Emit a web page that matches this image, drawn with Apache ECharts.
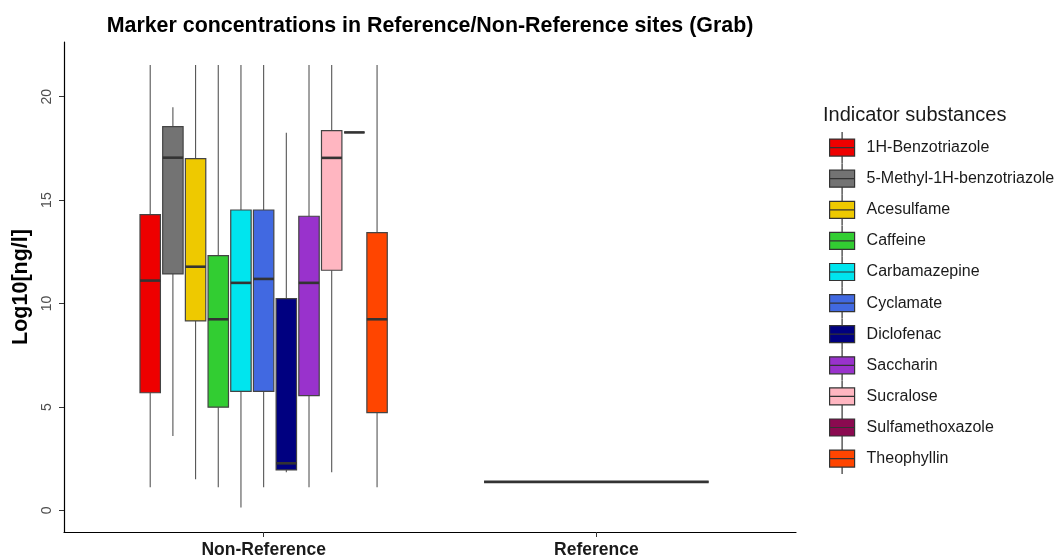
<!DOCTYPE html>
<html>
<head>
<meta charset="utf-8">
<script src="https://cdn.jsdelivr.net/npm/echarts@6/dist/echarts.min.js"></script>
<style>
html,body{margin:0;padding:0;background:#fff;}
#chart{width:1056px;height:557px;}
</style>
</head>
<body>
<div id="chart"></div>
<script>
// ---------- data ----------
const sites = ['Non-Reference', 'Reference'];
const substances = ['1H-Benzotriazole', '5-Methyl-1H-benzotriazole', 'Acesulfame', 'Caffeine',
  'Carbamazepine', 'Cyclamate', 'Diclofenac', 'Saccharin', 'Sucralose', 'Sulfamethoxazole', 'Theophyllin'];
const colors = ['#EE0000', '#737373', '#EEC900', '#32CD32', '#00E5EE', '#4169E1',
  '#000080', '#9932CC', '#FFB6C1', '#8B0A50', '#FF4500'];
// Non-Reference statistics (per substance)
const nonRefMin = [1.12, 3.60, 1.51, 1.12, 0.15, 1.12, 1.85, 1.12, 1.85, 18.27, 1.12];
const nonRefQ1  = [5.69, 11.43, 9.16, 4.99, 5.76, 5.76, 1.96, 5.55, 11.61, 18.27, 4.73];
const nonRefMed = [11.11, 17.05, 11.78, 9.24, 11.00, 11.19, 2.28, 11.00, 17.04, 18.27, 9.24];
const nonRefQ3  = [14.30, 18.55, 17.00, 12.32, 14.52, 14.52, 10.24, 14.22, 18.36, 18.27, 13.43];
const nonRefMax = [21.53, 19.49, 21.53, 21.53, 21.53, 21.53, 18.26, 21.53, 21.53, 18.27, 21.53];
// Reference statistics (only one substance measured, all values equal)
const refSubstance = ['Sulfamethoxazole'];
const refStats = [[1.38, 1.38, 1.38, 1.38, 1.38]];
const yTicks = [0, 5, 10, 15, 20];

// ---------- build ----------
const dodgeWidth = 0.75;
const perSite = sites.map(() => []);
substances.forEach((s, i) => {
  perSite[0].push({ sub: i, stats: [nonRefMin[i], nonRefQ1[i], nonRefMed[i], nonRefQ3[i], nonRefMax[i]] });
});
refSubstance.forEach((s, j) => {
  perSite[1].push({ sub: substances.indexOf(s), stats: refStats[j] });
});
const seriesData = substances.map(() => []);
perSite.forEach((list, siteIdx) => {
  list.forEach((item, k) => {
    seriesData[item.sub].push([siteIdx].concat(item.stats, [k, list.length]));
  });
});

function renderBox(params, api) {
  const siteIdx = api.value(0);
  const k = api.value(6), n = api.value(7);
  const slot = api.size([dodgeWidth / n, 0])[0];
  const cx = api.coord([siteIdx + 1, 0])[0] + (k - (n - 1) / 2) * slot;
  const bw = slot * 0.9;
  const y = i => api.coord([siteIdx + 1, api.value(i)])[1];
  const yMin = y(1), yQ1 = y(2), yMed = y(3), yQ3 = y(4), yMax = y(5);
  const color = api.visual('color');
  return {
    type: 'group',
    children: [
      { type: 'line', shape: { x1: cx, y1: yQ3, x2: cx, y2: yMax }, style: { stroke: '#555', lineWidth: 1.1 } },
      { type: 'line', shape: { x1: cx, y1: yQ1, x2: cx, y2: yMin }, style: { stroke: '#555', lineWidth: 1.1 } },
      { type: 'rect', shape: { x: cx - bw / 2, y: yQ3, width: bw, height: yQ1 - yQ3 },
        style: { fill: color, stroke: '#444', lineWidth: 1.2 } },
      { type: 'line', shape: { x1: cx - bw / 2, y1: yMed, x2: cx + bw / 2, y2: yMed },
        style: { stroke: '#333', lineWidth: 2.6 } }
    ]
  };
}

const boxIcon = 'path://M12.5,0L12.5,7M0,7L25,7L25,24L0,24ZM0,15.5L25,15.5M12.5,24L12.5,31';
const font = 'Liberation Sans, Arial, sans-serif';

const option = {
  backgroundColor: '#fff',
  animation: false,
  textStyle: { fontFamily: font },
  title: [
    { text: 'Marker concentrations in Reference/Non-Reference sites (Grab)', left: 425, top: 11,
      textAlign: 'center',
      textStyle: { fontSize: 21.4, fontWeight: 'bold', color: '#000', fontFamily: font } },
    { text: 'Indicator substances', left: 818, top: 100,
      textStyle: { fontSize: 20, fontWeight: 'normal', color: '#1a1a1a', fontFamily: font } }
  ],
  legend: {
    orient: 'vertical', left: 829, top: 131.5, padding: 0,
    itemWidth: 25, itemHeight: 31, itemGap: -1.1,
    data: substances.map(s => ({ name: s, icon: boxIcon })),
    itemStyle: { borderColor: '#333', borderWidth: 1.2 },
    textStyle: { fontSize: 16, color: '#1a1a1a', padding: [0, 0, 0, 7], fontFamily: font },
    selectedMode: false
  },
  grid: { left: 64, right: 260, top: 42, bottom: 25, containLabel: false, outerBoundsMode: 'none' },
  xAxis: {
    type: 'value', min: 0.4, max: 2.6,
    splitLine: { show: false },
    axisLine: { show: true, onZero: false, lineStyle: { color: '#000', width: 1.2 } },
    axisTick: { show: true, customValues: [1, 2], length: 5, lineStyle: { color: '#333' } },
    axisLabel: { customValues: [1, 2], formatter: v => sites[Math.round(v) - 1], margin: 9,
      fontSize: 17.5, fontWeight: 'bold', color: '#1a1a1a' }
  },
  yAxis: {
    type: 'value', min: -1.04, max: 22.64,
    name: 'Log10[ng/l]', nameLocation: 'middle', nameGap: 26,
    nameTextStyle: { fontSize: 21.5, fontWeight: 'bold', color: '#000' },
    splitLine: { show: false },
    axisLine: { show: true, onZero: false, lineStyle: { color: '#000', width: 1.2 } },
    axisTick: { show: true, customValues: yTicks, length: 5, lineStyle: { color: '#333' } },
    axisLabel: { customValues: yTicks, rotate: 90, margin: 10, fontSize: 14, color: '#4d4d4d' }
  },
  series: substances.map((s, i) => ({
    name: s, type: 'custom', renderItem: renderBox,
    itemStyle: { color: colors[i], borderColor: '#333', borderWidth: 1.2 },
    encode: { x: 0, y: [1, 2, 3, 4, 5] },
    data: seriesData[i]
  }))
};

const chart = echarts.init(document.getElementById('chart'), null, { renderer: 'canvas' });
chart.setOption(option);
</script>
</body>
</html>
